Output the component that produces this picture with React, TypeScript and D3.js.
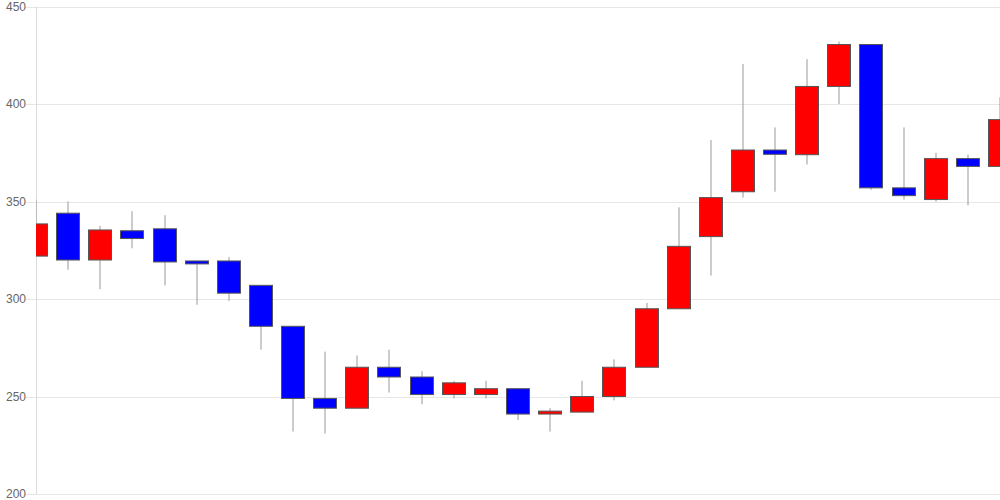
import React from "react";
import * as d3 from "d3";

const days: string[] = Array.from({ length: 31 }, (_, i) => `d${i + 1}`);
const opens: number[] = [322, 344, 320, 335, 336, 319.5, 319.5, 307, 286, 249, 244, 265, 260, 251, 251, 254, 241, 242, 250, 265, 295, 332, 355, 376.4, 374, 409, 430.5, 357, 351, 372, 368];
const closes: number[] = [338.5, 320, 335.4, 331, 319, 318, 303, 286, 249, 244, 265, 260, 251, 257, 254, 241, 242.5, 250, 265, 295, 327, 352, 376.4, 374.2, 409, 430.5, 357, 353, 372, 368, 392];
const highs: number[] = [351, 350, 337.5, 345, 343, 319.5, 321.5, 307, 286, 273, 271, 274, 263, 258, 258, 254, 244, 258, 269, 298, 347, 381.5, 420.5, 388, 423, 432, 430.5, 388, 375, 374, 403.5];
const lows: number[] = [322, 315, 305, 326, 307, 297, 299, 274, 232, 231, 244, 252, 246, 249, 249, 238, 232, 242, 248, 265, 295, 312, 352, 355, 369, 400, 356, 351, 350, 348, 368];
const yTicks: number[] = [200, 250, 300, 350, 400, 450];

export default function App() {
  const W = 1000, H = 500;
  const left = 36, right = 1000, top = 6.5, bottom = 494;
  const x = d3.scalePoint<string>().domain(days).range([left, right]);
  const y = d3.scaleLinear().domain([200, 450]).range([bottom, top]);
  const bw = 23;
  return (
    <svg width={W} height={H} style={{ position: "absolute", left: 0, top: 0 }}>
      <defs>
        <clipPath id="plot">
          <rect x={left} y={top} width={right - left} height={bottom - top} />
        </clipPath>
      </defs>
      {yTicks.map((t) => (
        <g key={t}>
          <line x1={26} x2={right} y1={Math.round(y(t)) + 0.5} y2={Math.round(y(t)) + 0.5} stroke="#e6e6e6" strokeWidth={1} />
          <text x={26} y={y(t)} dy="0.35em" textAnchor="end" fontFamily="Liberation Sans, Arial, sans-serif" fontSize={12} fill="#666">
            {t}
          </text>
        </g>
      ))}
      <line x1={left + 0.5} x2={left + 0.5} y1={top} y2={bottom} stroke="#dcdcdc" strokeWidth={1} />
      <g clipPath="url(#plot)">
        {days.map((d, i) => {
          const cx = Math.round(x(d)!);
          const up = closes[i] >= opens[i];
          const yTop = y(Math.max(opens[i], closes[i]));
          const yBot = y(Math.min(opens[i], closes[i]));
          return (
            <g key={d}>
              <line x1={cx} x2={cx} y1={y(highs[i])} y2={y(lows[i])} stroke="#999" strokeWidth={1} />
              <rect
                x={cx - bw / 2}
                y={yTop}
                width={bw}
                height={Math.max(1, yBot - yTop)}
                fill={up ? "#ff0000" : "#0000ff"}
                stroke="#555"
                strokeWidth={1}
              />
            </g>
          );
        })}
      </g>
    </svg>
  );
}
